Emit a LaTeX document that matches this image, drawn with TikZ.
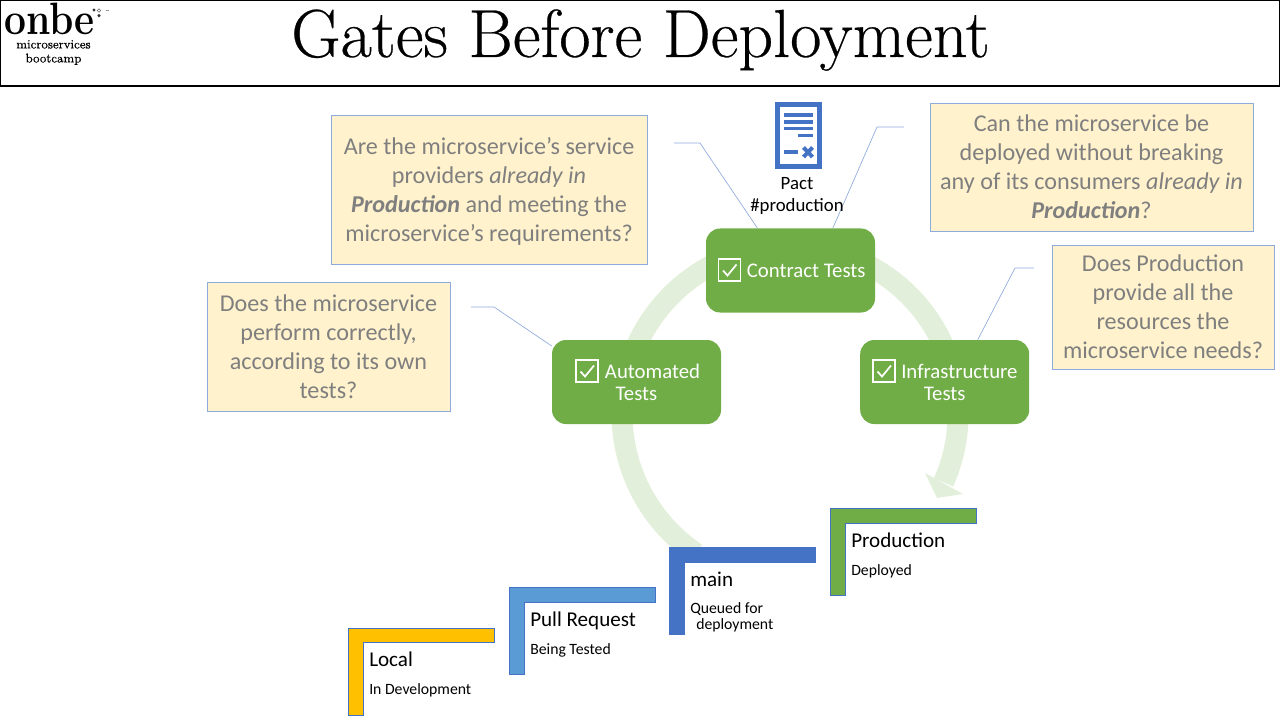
\documentclass[tikz,border=0pt]{standalone}
\usepackage{xcolor}
\usepackage{fontspec}
\newfontfamily\bodyfont{Carlito}
\newfontfamily\titlefont[FakeBold=0.4]{Latin Modern Roman}
\usepackage{tikz}
\usetikzlibrary{positioning,calc}
\definecolor{gategreen}{HTML}{70AD47}
\definecolor{ringgreen}{HTML}{E2EFDA}
\definecolor{calloutfill}{HTML}{FFF2CC}
\definecolor{calloutline}{HTML}{8FAADC}
\definecolor{calloutgray}{HTML}{7F7F7F}
\definecolor{stepblue}{HTML}{4472C4}
\definecolor{stepsky}{HTML}{5B9BD5}
\definecolor{stepamber}{HTML}{FFC000}
\tikzset{
  gatebox/.style={rectangle, fill=gategreen, text=white, rounded corners=10.5pt, minimum width=126.75pt, minimum height=63pt, align=center, inner sep=0pt, font=\bodyfont\fontsize{15.6}{16.5}\selectfont},
  calloutbox/.style={rectangle, draw=calloutline, line width=0.6pt, fill=calloutfill, text=calloutgray, align=center, inner sep=0pt, font=\bodyfont\fontsize{18.1}{21.75}\selectfont},
  leader/.style={draw=calloutline, line width=0.5pt},
  stepname/.style={anchor=west, inner sep=0pt, font=\bodyfont\fontsize{15.8}{18}\selectfont},
  stepnote/.style={anchor=west, inner sep=0pt, align=left, font=\bodyfont\fontsize{11.8}{12}\selectfont},
  tickbox/.pic={
    \draw[white, line width=0.8pt] (-11,-11) rectangle (11,11);
    \draw[white, line width=1.3pt] (-6.5,0.5) -- (-2,5.5) -- (7,-5.5);
  },
  stepframe/.pic={
    \draw[draw=stepblue, line width=0.7pt, fill=#1] (0,0) -- (145.5,0) -- (145.5,14.5) -- (15,14.5) -- (15,87) -- (0,87) -- cycle;
  }
}
\begin{document}
\begin{tikzpicture}[x=0.75pt, y=-0.75pt]
\useasboundingbox (0,0) rectangle (1280,720);
\draw[black, line width=0.9pt] (0.5,0.5) rectangle (1279.5,86);
\node[inner sep=0pt, anchor=base, font=\titlefont\fontsize{51}{55}\selectfont] (title) at (640.5,57) {Gates Before Deployment};
\node[inner sep=0pt, anchor=base west, font=\bfseries\fontsize{34}{36}\selectfont] (logo) at (4,35) {\scalebox{0.86}[1]{onbe}};
\node[inner sep=0pt, align=center, font=\titlefont\fontsize{9.4}{10.5}\selectfont] (bootcamp) at (53.5,52.5) {microservices\\bootcamp};
\fill[black!80] (94,10) circle (1.7) (99,15.7) circle (1.7);
\draw[black!60, line width=0.4pt] (99,10.5) circle (1.7);
\draw[black!40, line width=0.5pt] (105.5,10.5) -- (109,10.5);
\draw[ringgreen, line width=15.75pt] (696.1,553.3) arc[start angle=236, end angle=-24, radius=126pt];
\fill[ringgreen] (925,473) -- (963,494) -- (937,498) -- cycle;
\node[gatebox] (contract) at (790.5,270.5) {\hspace*{23.5pt}Contract Tests};
\node[gatebox] (automated) at (636.5,382) {\hspace*{24pt}Automated\\Tests};
\node[gatebox, right=104pt of automated] (infrastructure) {\hspace*{22pt}Infrastructure\\Tests};
\pic at (729.5,270) {tickbox};
\pic at (587,371) {tickbox};
\pic at (884,371) {tickbox};
\node[calloutbox, minimum width=237pt, minimum height=111.75pt] (providers) at (489,189.5) {\rule{0pt}{16pt}Are the microservice’s service\\providers \textit{already in}\\\textbf{\textit{Production}} and meeting the\\microservice’s requirements?};
\node[calloutbox, minimum width=242.25pt, minimum height=96pt] (consumers) at (1091.5,167) {Can the microservice be\\deployed without breaking\\any of its consumers \textit{already in}\\\textbf{\textit{Production}}?};
\node[calloutbox, minimum width=166.5pt, minimum height=93pt] (resources) at (1163,307) {Does Production\\provide all the\\resources the\\microservice needs?};
\node[calloutbox, minimum width=182.25pt, minimum height=96.75pt] (owntests) at (328.5,346.5) {Does the microservice\\perform correctly,\\according to its own\\tests?};
\coordinate (providersend) at (674,143);
\coordinate (consumersend) at (904,127);
\coordinate (resourcesend) at (1034,268);
\coordinate (owntestsend) at (471,307);
\draw[leader] (providersend) -- (700,143) -- (contract.128);
\draw[leader] (consumersend) -- (877,127) -- (contract.45);
\draw[leader] (resourcesend) -- (1015,268) -- (infrastructure.52);
\draw[leader] (owntestsend) -- (494,307) -- (automated.157);
\fill[stepblue] (775,102) rectangle (822,169);
\fill[white] (780,107) rectangle (817,164);
\draw[stepblue, line width=2.3pt] (784,115) -- (813,115) (784,122) -- (813,122) (784,128.5) -- (813,128.5) (798,135.5) -- (813,135.5) (784,152) -- (798,152);
\draw[stepblue, line width=3pt] (803.5,147.5) -- (812.5,157) (812.5,147.5) -- (803.5,157);
\node[inner sep=0pt, align=center, font=\bodyfont\fontsize{14.1}{16.5}\selectfont] (pact) at (797,196) {Pact\\\#production};
\pic at (348.5,628) {stepframe=stepamber};
\pic at (509.5,587.5) {stepframe=stepsky};
\pic at (669.5,547.5) {stepframe=stepblue};
\pic at (830.5,508.5) {stepframe=gategreen};
\node[stepname] (local) at (369,659) {Local};
\node[stepnote] (localnote) at (369,690) {In Development};
\node[stepname] (pullrequest) at (530,621) {Pull Request};
\node[stepnote] (pullrequestnote) at (530,650) {Being Tested};
\node[stepname] (main) at (690,579.5) {main};
\node[stepnote] (mainnote) at (690,617) {Queued for\\\hspace*{4.5pt}deployment};
\node[stepname] (production) at (851,540) {Production};
\node[stepnote] (productionnote) at (851,571) {Deployed};
\end{tikzpicture}
\end{document}
